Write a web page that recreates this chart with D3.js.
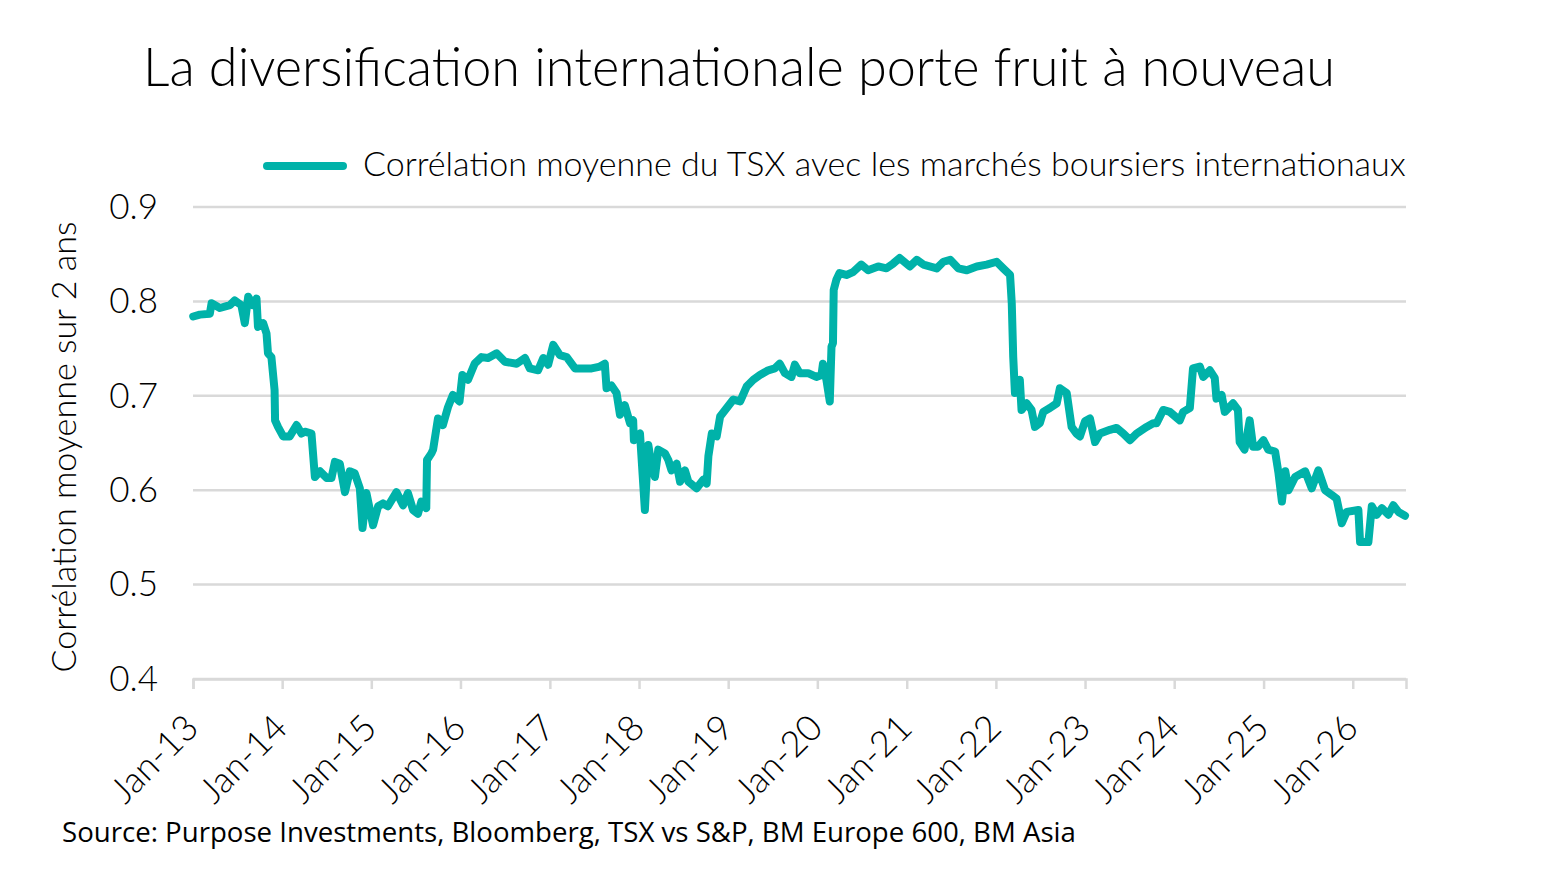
<html>
<head>
<meta charset="utf-8">
<title>Corrélation TSX</title>
<script src="https://cdn.jsdelivr.net/npm/d3@7"></script>
<style>
  body { margin: 0; background: #fff; }
  text { font-family: Lato, "Open Sans", sans-serif; font-weight: 300; fill: #000; }
</style>
</head>
<body>
<div id="chart"></div>
<script>
const chartTitle = "La diversification internationale porte fruit à nouveau";
const seriesName = "Corrélation moyenne du TSX avec les marchés boursiers internationaux";
const yTitle = "Corrélation moyenne sur 2 ans";
const sourceNote = "Source: Purpose Investments, Bloomberg, TSX vs S&P, BM Europe 600, BM Asia";
const yTicks = [0.4, 0.5, 0.6, 0.7, 0.8, 0.9];

// dates, one per visible turn of the line
const dates = [
  "2013-01-02","2013-01-29","2013-03-11","2013-03-18","2013-04-21","2013-06-01","2013-06-21","2013-07-18",
  "2013-08-01","2013-08-15","2013-09-04","2013-09-18","2013-09-24","2013-10-15","2013-10-29","2013-11-04",
  "2013-11-18","2013-12-01","2013-12-03","2013-12-15","2014-01-05","2014-02-01","2014-03-01","2014-03-21",
  "2014-04-04","2014-05-01","2014-05-15","2014-06-05","2014-07-02","2014-07-22","2014-08-05","2014-08-25",
  "2014-09-15","2014-10-05","2014-10-25","2014-11-15","2014-11-26","2014-12-12","2015-01-08","2015-01-29",
  "2015-02-18","2015-03-10","2015-04-14","2015-05-11","2015-05-31","2015-06-21","2015-07-11","2015-07-25",
  "2015-08-14","2015-08-17","2015-09-04","2015-09-11","2015-10-01","2015-10-21","2015-11-11","2015-12-01",
  "2015-12-28","2016-01-09","2016-02-01","2016-02-28","2016-03-27","2016-04-23","2016-05-28","2016-07-01",
  "2016-08-18","2016-09-21","2016-10-11","2016-11-14","2016-12-05","2016-12-25","2017-01-15","2017-02-11",
  "2017-03-11","2017-04-14","2017-05-18","2017-06-21","2017-07-25","2017-08-14","2017-08-21","2017-09-10",
  "2017-10-01","2017-10-15","2017-11-04","2017-11-25","2017-12-08","2017-12-11","2018-01-05","2018-01-25",
  "2018-02-08","2018-02-22","2018-03-07","2018-03-21","2018-04-17","2018-05-01","2018-05-14","2018-06-04",
  "2018-06-18","2018-07-08","2018-07-22","2018-08-25","2018-09-21","2018-10-05","2018-10-12","2018-10-26",
  "2018-11-15","2018-11-29","2018-12-26","2019-01-22","2019-02-19","2019-03-18","2019-04-14","2019-05-11",
  "2019-06-14","2019-07-11","2019-07-31","2019-08-21","2019-09-17","2019-10-01","2019-10-21","2019-11-24",
  "2019-12-28","2020-01-18","2020-01-24","2020-02-07","2020-02-21","2020-02-28","2020-03-05","2020-03-08",
  "2020-03-19","2020-04-01","2020-04-29","2020-05-26","2020-06-29","2020-07-27","2020-09-06","2020-10-10",
  "2020-11-06","2020-12-03","2021-01-14","2021-02-11","2021-03-10","2021-05-04","2021-05-31","2021-06-28",
  "2021-07-31","2021-09-04","2021-10-15","2021-11-24","2022-01-04","2022-01-31","2022-02-28","2022-03-07",
  "2022-03-13","2022-03-20","2022-04-09","2022-04-16","2022-05-07","2022-05-27","2022-06-10","2022-06-30",
  "2022-07-14","2022-08-10","2022-09-07","2022-09-20","2022-10-18","2022-11-07","2022-11-27","2022-12-11",
  "2023-01-01","2023-01-21","2023-02-11","2023-03-03","2023-04-13","2023-05-10","2023-06-07","2023-07-04",
  "2023-07-31","2023-09-10","2023-10-07","2023-10-21","2023-11-17","2023-12-14","2024-01-24","2024-02-07",
  "2024-03-05","2024-03-18","2024-04-15","2024-04-29","2024-05-26","2024-06-15","2024-06-22","2024-07-13",
  "2024-07-26","2024-08-29","2024-09-18","2024-09-25","2024-10-15","2024-11-05","2024-11-19","2024-12-09",
  "2024-12-31","2025-01-20","2025-02-17","2025-03-03","2025-03-17","2025-03-31","2025-04-13","2025-05-10",
  "2025-06-20","2025-07-17","2025-08-13","2025-09-10","2025-10-07","2025-10-27","2025-11-17","2025-12-07",
  "2026-01-24","2026-01-31","2026-03-06","2026-03-20","2026-04-09","2026-04-30","2026-05-27","2026-06-16",
  "2026-07-07","2026-08-03"
];
const values = [
  0.784,0.786,0.787,0.798,0.793,0.796,0.801,0.796,
  0.777,0.805,0.796,0.803,0.773,0.777,0.766,0.745,
  0.741,0.706,0.674,0.667,0.657,0.657,0.669,0.660,
  0.662,0.660,0.614,0.620,0.613,0.613,0.630,0.628,
  0.598,0.620,0.618,0.602,0.560,0.597,0.563,0.583,
  0.586,0.583,0.598,0.584,0.597,0.579,0.575,0.588,
  0.581,0.632,0.639,0.643,0.676,0.669,0.688,0.701,
  0.694,0.722,0.717,0.734,0.741,0.740,0.745,0.736,
  0.734,0.740,0.729,0.727,0.740,0.733,0.754,0.743,
  0.741,0.729,0.729,0.729,0.731,0.734,0.708,0.711,
  0.703,0.680,0.690,0.671,0.674,0.653,0.660,0.579,
  0.648,0.625,0.614,0.643,0.639,0.632,0.621,0.628,
  0.609,0.621,0.609,0.602,0.611,0.607,0.636,0.660,
  0.657,0.678,0.687,0.696,0.694,0.710,0.717,0.722,
  0.727,0.729,0.734,0.724,0.720,0.733,0.724,0.724,
  0.720,0.722,0.734,0.717,0.694,0.752,0.756,0.812,
  0.823,0.830,0.828,0.831,0.839,0.833,0.837,0.835,
  0.840,0.846,0.837,0.844,0.839,0.835,0.842,0.844,
  0.835,0.833,0.837,0.839,0.842,0.835,0.828,0.798,
  0.741,0.703,0.717,0.685,0.692,0.685,0.667,0.671,
  0.683,0.687,0.692,0.708,0.703,0.667,0.660,0.657,
  0.673,0.676,0.651,0.660,0.664,0.666,0.660,0.653,
  0.660,0.667,0.671,0.671,0.685,0.683,0.674,0.683,
  0.687,0.729,0.731,0.720,0.727,0.719,0.697,0.701,
  0.683,0.692,0.685,0.651,0.643,0.674,0.646,0.646,
  0.653,0.643,0.641,0.618,0.588,0.620,0.600,0.614,
  0.620,0.602,0.621,0.600,0.595,0.591,0.565,0.577,
  0.579,0.545,0.545,0.583,0.574,0.581,0.574,0.584,
  0.577,0.573
];

const width = 1541, height = 889;
const lineColor = "#00b2a9";
const gridColor = "#d9d9d9";
const parseDate = d3.timeParse("%Y-%m-%d");
const data = dates.map((d, i) => ({ date: parseDate(d), value: values[i] }));

const svg = d3.select("#chart").append("svg").attr("width", width).attr("height", height);

// shrink or grow a text's font until it covers the width seen in the picture
function fitText(sel, targetWidth, startSize) {
  sel.style("font-size", startSize + "px");
  let w = sel.node().getComputedTextLength();
  sel.style("font-size", (startSize * targetWidth / w).toFixed(2) + "px");
  return sel;
}

let x = d3.scaleTime()
  .domain([parseDate("2013-01-01"), parseDate("2026-08-07")])
  .range([193, 1406]);
let y = d3.scaleLinear().domain([0.4, 0.9]).range([679, 207]);

// gridlines
svg.append("g").selectAll("line")
  .data(yTicks)
  .enter().append("line")
  .attr("x1", x.range()[0]).attr("x2", x.range()[1])
  .attr("y1", d => y(d)).attr("y2", d => y(d))
  .attr("stroke", gridColor).attr("stroke-width", 2.5);

// y axis labels
let yAxis = svg.append("g").attr("transform", "translate(158,0)")
  .call(d3.axisLeft(y).tickValues(yTicks).tickSize(0).tickPadding(0).tickFormat(d3.format(".1f")));
yAxis.select(".domain").remove();
yAxis.selectAll("text")
  .style("font-family", "Lato, sans-serif").style("font-weight", 300)
  .style("font-size", "35px").attr("fill", "#000");

// x axis with ticks hanging down
let xAxis = svg.append("g").attr("transform", "translate(0," + y(0.4) + ")")
  .call(d3.axisBottom(x).ticks(d3.timeYear.every(1)).tickSize(10).tickFormat(d3.timeFormat("%b-%y")));
xAxis.select(".domain").attr("stroke", gridColor).attr("stroke-width", 2.5);
xAxis.selectAll(".tick line").attr("stroke", gridColor).attr("stroke-width", 2.5);
xAxis.selectAll("text")
  .style("font-family", "Lato, sans-serif").style("font-weight", 300)
  .style("font-size", "36px").attr("fill", "#000")
  .attr("text-anchor", "end")
  .attr("x", 0).attr("y", 0).attr("dy", "0.35em")
  .attr("transform", "translate(-2,42) rotate(-45)");

// the series
let line = d3.line().x(d => x(d.date)).y(d => y(d.value));
svg.append("path")
  .datum(data)
  .attr("d", line)
  .attr("fill", "none")
  .attr("stroke", lineColor)
  .attr("stroke-width", 8)
  .attr("stroke-linejoin", "round")
  .attr("stroke-linecap", "round");

// title
let title = svg.append("text").attr("x", 143).attr("y", 86).text(chartTitle);
fitText(title, 1192, 46);

// legend
svg.append("line")
  .attr("x1", 267).attr("x2", 343).attr("y1", 166).attr("y2", 166)
  .attr("stroke", lineColor).attr("stroke-width", 8).attr("stroke-linecap", "round");
let legendText = svg.append("text").attr("x", 363).attr("y", 176).text(seriesName);
fitText(legendText, 1043, 32);

// y title
let yt = svg.append("text")
  .attr("transform", "translate(76,447) rotate(-90)")
  .attr("text-anchor", "middle")
  .text(yTitle);
fitText(yt, 451, 30);

// source
let src = svg.append("text").attr("x", 62).attr("y", 842)
  .style("font-family", "'Open Sans', sans-serif").style("font-weight", 400)
  .text(sourceNote);
fitText(src, 1014, 25);
</script>
</body>
</html>
